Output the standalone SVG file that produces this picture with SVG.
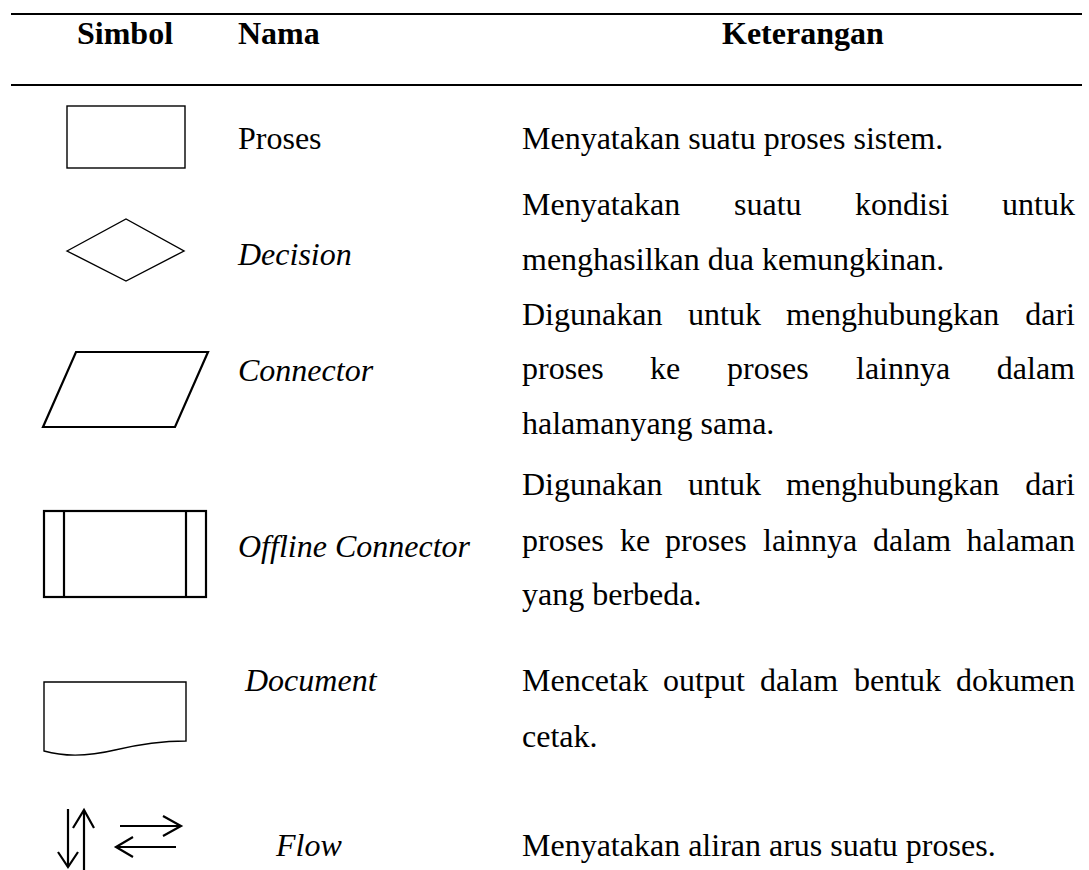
<svg xmlns="http://www.w3.org/2000/svg" width="1089" height="870" viewBox="0 0 1089 870">
<style>
text{font-family:"Liberation Serif","Times New Roman",serif;font-size:32px;fill:#000}
.h{font-weight:bold}
.i{font-style:italic}
.s{fill:#fff;stroke:#000;stroke-width:1.4}
.t{fill:#fff;stroke:#000;stroke-width:2.2}
.a{fill:none;stroke:#000;stroke-width:2.2}
.rule{stroke:#000;stroke-width:2.2}
</style>
<rect width="1089" height="870" fill="#fff"/>
<g id="table-rules">
<line class="rule" x1="11" y1="14" x2="1082" y2="14"/>
<line class="rule" x1="11" y1="85" x2="1082" y2="85"/>
</g>
<g id="header">
<text class="h" x="77" y="44">Simbol</text>
<text class="h" x="238" y="44">Nama</text>
<text class="h" x="722" y="44">Keterangan</text>
</g>
<g id="row-proses">
<rect class="s" x="67" y="106" width="118" height="62"/>
<text x="238" y="149">Proses</text>
<text x="522" y="149">Menyatakan suatu proses sistem.</text>
</g>
<g id="row-decision">
<polygon class="s" points="67,251 126,219 184,251 126,281"/>
<text class="i" x="238" y="265">Decision</text>
<text x="522" y="215">Menyatakan</text>
<text x="734" y="215">suatu</text>
<text x="855" y="215">kondisi</text>
<text x="1075" y="215" text-anchor="end">untuk</text>
<text x="522" y="270">menghasilkan dua kemungkinan.</text>
</g>
<g id="row-connector">
<polygon class="t" points="76,352 208,352 175,427 43,427"/>
<text class="i" x="238" y="381">Connector</text>
<text x="522" y="325">Digunakan</text>
<text x="688" y="325">untuk</text>
<text x="786" y="325">menghubungkan</text>
<text x="1075" y="325" text-anchor="end">dari</text>
<text x="522" y="379">proses</text>
<text x="650" y="379">ke</text>
<text x="727" y="379">proses</text>
<text x="856" y="379">lainnya</text>
<text x="1075" y="379" text-anchor="end">dalam</text>
<text x="522" y="434">halamanyang sama.</text>
</g>
<g id="row-offline-connector">
<rect class="t" x="44" y="511" width="162" height="86"/>
<line class="a" x1="64" y1="511" x2="64" y2="597"/>
<line class="a" x1="186" y1="511" x2="186" y2="597"/>
<text class="i" x="238" y="557">Offline Connector</text>
<text x="522" y="495">Digunakan</text>
<text x="688" y="495">untuk</text>
<text x="786" y="495">menghubungkan</text>
<text x="1075" y="495" text-anchor="end">dari</text>
<text x="522" y="551">proses</text>
<text x="620" y="551">ke</text>
<text x="665" y="551">proses</text>
<text x="763" y="551">lainnya</text>
<text x="873" y="551">dalam</text>
<text x="1075" y="551" text-anchor="end">halaman</text>
<text x="522" y="605">yang berbeda.</text>
</g>
<g id="row-document">
<path class="s" d="M44,682 H186 V741 C160,741 140,744 115,750 C90,756 65,757 44,751 Z"/>
<text class="i" x="245" y="691">Document</text>
<text x="522" y="691">Mencetak</text>
<text x="663" y="691">output</text>
<text x="760" y="691">dalam</text>
<text x="854" y="691">bentuk</text>
<text x="1075" y="691" text-anchor="end">dokumen</text>
<text x="522" y="747">cetak.</text>
</g>
<g id="row-flow">
<line class="a" x1="68" y1="809" x2="68" y2="867"/>
<polyline class="a" points="58,852 68,867 78,852"/>
<line class="a" x1="84" y1="810" x2="84" y2="870"/>
<polyline class="a" points="73,828 84,810 94,828"/>
<line class="a" x1="120" y1="826" x2="181" y2="826"/>
<polyline class="a" points="163,816 181,826 163,836"/>
<line class="a" x1="116" y1="847" x2="176" y2="847"/>
<polyline class="a" points="133,837 116,847 133,857"/>
<text class="i" x="276" y="856">Flow</text>
<text x="522" y="856">Menyatakan aliran arus suatu proses.</text>
</g>
<g id="connectors"></g>
</svg>
